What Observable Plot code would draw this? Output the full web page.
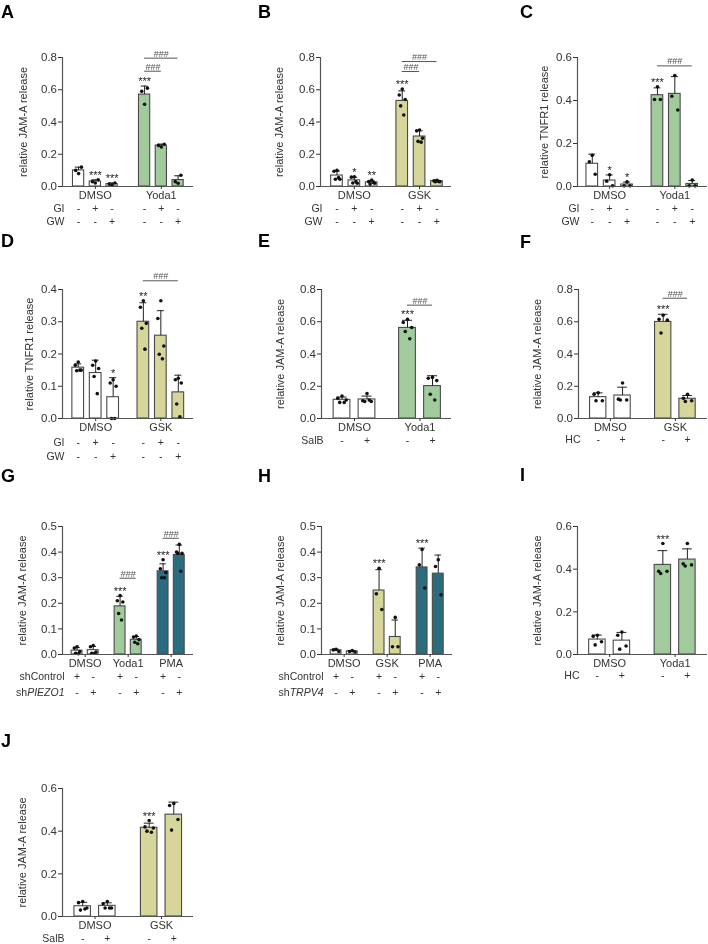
<!DOCTYPE html>
<html><head><meta charset="utf-8">
<script src="https://cdn.jsdelivr.net/npm/d3@7"></script>
<script src="https://cdn.jsdelivr.net/npm/@observablehq/plot@0.6"></script>
<style>
html,body{margin:0;padding:0;background:#fff;overflow:hidden;}
#fig{position:relative;width:708px;height:944px;overflow:hidden;font-family:"Liberation Sans",Arial,sans-serif;}
.letter{position:absolute;font-weight:bold;font-size:18px;line-height:18px;color:#000;font-family:"Liberation Sans",Arial,sans-serif;}
#fig svg{position:absolute;overflow:visible;will-change:transform;}
</style></head><body><div id="fig"></div>
<script>
// ---------- DATA ----------
// A
const A_groups = ["DMSO", "Yoda1"];
const A_points = [[0.08,0.10,0.12],[0.022,0.03,0.042],[0.008,0.015,0.022],[0.51,0.59,0.61],[0.245,0.255,0.262],[0.02,0.03,0.07]];
const A_stars = ["","***","***","***","",""];
const A_rowLabels = ["GI","GW"];
const A_rows = [["-","+","-","-","+","-"],["-","-","+","-","-","+"]];
const A_bFrom = [3,3], A_bTo = [4,5], A_bLevel = [0.715,0.796];
const A_yTicks = [0,0.2,0.4,0.6,0.8];
// B
const B_groups = ["DMSO", "GSK"];
const B_points = [[0.1,0.095,0.045,0.045,0.055],[0.06,0.058,0.02,0.022,0.03],[0.04,0.03,0.02,0.015,0.025],[0.604,0.567,0.54,0.5,0.443],[0.35,0.345,0.3,0.28,0.275],[0.038,0.035,0.03,0.03,0.032]];
const B_stars = ["","*","**","***","",""];
const B_rowLabels = ["GI","GW"];
const B_rows = [["-","+","-","-","+","-"],["-","-","+","-","-","+"]];
const B_bFrom = [3,3], B_bTo = [4,5], B_bLevel = [0.713,0.775];
const B_yTicks = [0,0.2,0.4,0.6,0.8];
// C
const C_groups = ["DMSO", "Yoda1"];
const C_points = [[0.145,0.115,0.057],[0.055,0.025,0.003],[0.022,0.003,0.003],[0.464,0.405,0.405],[0.516,0.42,0.356],[0.03,0.003,0.003]];
const C_stars = ["","*","*","***","",""];
const C_rowLabels = ["GI","GW"];
const C_rows = [["-","+","-","-","+","-"],["-","-","+","-","-","+"]];
const C_bFrom = [3], C_bTo = [5], C_bLevel = [0.561];
const C_yTicks = [0,0.2,0.4,0.6];
// D
const D_groups = ["DMSO", "GSK"];
const D_points = [[0.175,0.165,0.15,0.148,0.15],[0.178,0.165,0.155,0.13,0.077],[0.12,0.11,0.1,0,0],[0.365,0.345,0.295,0.28,0.215],[0.365,0.31,0.225,0.199,0.185],[0.125,0.12,0.11,0.045,0.005]];
const D_stars = ["","","*","**","",""];
const D_rowLabels = ["GI","GW"];
const D_rows = [["-","+","-","-","+","-"],["-","-","+","-","-","+"]];
const D_bFrom = [3], D_bTo = [5], D_bLevel = [0.427];
const D_yTicks = [0,0.1,0.2,0.3,0.4];
// E
const E_groups = ["DMSO", "Yoda1"];
const E_points = [[0.14,0.125,0.115,0.1,0.1],[0.155,0.11,0.105,0.105,0.115],[0.615,0.595,0.564,0.54,0.495],[0.255,0.25,0.235,0.15,0.115]];
const E_stars = ["","","***",""];
const E_rowLabels = ["SalB"];
const E_rows = [["-","+","-","+"]];
const E_bFrom = [2], E_bTo = [3], E_bLevel = [0.703];
const E_yTicks = [0,0.2,0.4,0.6,0.8];
// F
const F_groups = ["DMSO", "GSK"];
const F_points = [[0.16,0.15,0.11,0.11],[0.22,0.12,0.115,0.115],[0.64,0.615,0.61,0.53],[0.15,0.125,0.11,0.105]];
const F_stars = ["","","***",""];
const F_rowLabels = ["HC"];
const F_rows = [["-","+","-","+"]];
const F_bFrom = [2], F_bTo = [3], F_bLevel = [0.746];
const F_yTicks = [0,0.2,0.4,0.6,0.8];
// G
const G_groups = ["DMSO", "Yoda1", "PMA"];
const G_points = [[0.03,0.025,0.012,0.005,0.003],[0.035,0.03,0.01,0.005,0.005],[0.23,0.21,0.205,0.16,0.135],[0.072,0.068,0.058,0.048,0.042],[0.37,0.335,0.32,0.3,0.3],[0.43,0.4,0.395,0.395,0.325]];
const G_stars = ["","","***","","***",""];
const G_rowLabels = ["shControl","shPIEZO1"];
const G_rowItalic = [null,"PIEZO1"];
const G_rows = [["+","-","+","-","+","-"],["-","+","-","+","-","+"]];
const G_bFrom = [2,4], G_bTo = [3,5], G_bLevel = [0.298,0.454];
const G_yTicks = [0,0.1,0.2,0.3,0.4,0.5];
// H
const H_groups = ["DMSO", "GSK", "PMA"];
const H_points = [[0.02,0.018,0.012],[0.015,0.012,0.01],[0.337,0.237,0.176],[0.145,0.03,0.03],[0.41,0.35,0.26],[0.37,0.344,0.233]];
const H_stars = ["","","***","","***",""];
const H_rowLabels = ["shControl","shTRPV4"];
const H_rowItalic = [null,"TRPV4"];
const H_rows = [["+","-","+","-","+","-"],["-","+","-","+","-","+"]];
const H_bFrom = [], H_bTo = [], H_bLevel = [];
const H_yTicks = [0,0.1,0.2,0.3,0.4,0.5];
// I
const I_groups = ["DMSO", "Yoda1"];
const I_points = [[0.09,0.085,0.06,0.045],[0.105,0.09,0.04,0.025],[0.52,0.39,0.39,0.38],[0.52,0.425,0.42,0.415]];
const I_stars = ["","","***",""];
const I_rowLabels = ["HC"];
const I_rows = [["-","+","-","+"]];
const I_bFrom = [], I_bTo = [], I_bLevel = [];
const I_yTicks = [0,0.2,0.4,0.6];
// J
const J_groups = ["DMSO", "GSK"];
const J_points = [[0.07,0.065,0.04,0.03,0.035],[0.07,0.06,0.04,0.04,0.04],[0.45,0.42,0.415,0.4,0.395],[0.53,0.52,0.455,0.405]];
const J_stars = ["","","***",""];
const J_rowLabels = ["SalB"];
const J_rows = [["-","+","-","+"]];
const J_bFrom = [], J_bTo = [], J_bLevel = [];
const J_yTicks = [0,0.2,0.4,0.6];

const JAM = "relative JAM-A release", TNF = "relative TNFR1 release";

// ---------- STYLE ----------
const FONT = '"Liberation Sans", Arial, sans-serif';
const COLORS = {DMSO:"#ffffff", Yoda1:"#a1cb9d", GSK:"#d7d69a", PMA:"#2b6c7e"};
const BW = 0.67, CAP = 0.2, MT = 38;
const JIT = [0,-0.17,0.17,-0.09,0.09,0];

const panels = [
 {L:"A",lx:1,ly:3, svgLeft:0,  yTop:57,  plotH:129, axis:[62,193],  gap:1.94,padL:0.96,padR:0.92,labelOff:39,rowDy:[22,35],mb:52,
  groups:A_groups,points:A_points,stars:A_stars,rowLabels:A_rowLabels,rows:A_rows,bFrom:A_bFrom,bTo:A_bTo,bLevel:A_bLevel,yTicks:A_yTicks,yLabel:JAM},
 {L:"B",lx:258,ly:3, svgLeft:236,yTop:57, plotH:129, axis:[320,451], gap:1.76,padL:0.95,padR:0.84,labelOff:41,rowDy:[22,35],mb:52,
  groups:B_groups,points:B_points,stars:B_stars,rowLabels:B_rowLabels,rows:B_rows,bFrom:B_bFrom,bTo:B_bTo,bLevel:B_bLevel,yTicks:B_yTicks,yLabel:JAM},
 {L:"C",lx:520,ly:3, svgLeft:472,yTop:57, plotH:129, axis:[577,707], gap:1.75,padL:0.85,padR:0.88,labelOff:33,rowDy:[22,35],mb:52,
  groups:C_groups,points:C_points,stars:C_stars,rowLabels:C_rowLabels,rows:C_rows,bFrom:C_bFrom,bTo:C_bTo,bLevel:C_bLevel,yTicks:C_yTicks,yLabel:TNF},
 {L:"D",lx:1,ly:232, svgLeft:0,  yTop:289, plotH:129, axis:[62,193],  gap:1.73,padL:0.9,padR:0.87,labelOff:33,rowDy:[24,38],mb:52,
  groups:D_groups,points:D_points,stars:D_stars,rowLabels:D_rowLabels,rows:D_rows,bFrom:D_bFrom,bTo:D_bTo,bLevel:D_bLevel,yTicks:D_yTicks,yLabel:TNF},
 {L:"E",lx:258,ly:232, svgLeft:236,yTop:289,plotH:129, axis:[321,451], gap:1.62,padL:0.82,padR:0.76,labelOff:41,rowDy:[22],mb:52,
  groups:E_groups,points:E_points,stars:E_stars,rowLabels:E_rowLabels,rows:E_rows,bFrom:E_bFrom,bTo:E_bTo,bLevel:E_bLevel,yTicks:E_yTicks,yLabel:JAM},
 {L:"F",lx:520,ly:233, svgLeft:472,yTop:289,plotH:129, axis:[578,707], gap:1.67,padL:0.81,padR:0.82,labelOff:41,rowDy:[21],mb:52,
  groups:F_groups,points:F_points,stars:F_stars,rowLabels:F_rowLabels,rows:F_rows,bFrom:F_bFrom,bTo:F_bTo,bLevel:F_bLevel,yTicks:F_yTicks,yLabel:JAM},
 {L:"G",lx:1,ly:467, svgLeft:0,  yTop:526, plotH:128, axis:[62,193],  gap:1.66,padL:0.9,padR:0.88,labelOff:40,rowDy:[22,38],mb:50,
  groups:G_groups,points:G_points,stars:G_stars,rowLabels:G_rowLabels,rowItalic:G_rowItalic,rows:G_rows,bFrom:G_bFrom,bTo:G_bTo,bLevel:G_bLevel,yTicks:G_yTicks,yLabel:JAM},
 {L:"H",lx:258,ly:467, svgLeft:236,yTop:526,plotH:128, axis:[321,452], gap:1.66,padL:0.9,padR:0.88,labelOff:41,rowDy:[22,38],mb:50,
  groups:H_groups,points:H_points,stars:H_stars,rowLabels:H_rowLabels,rowItalic:H_rowItalic,rows:H_rows,bFrom:H_bFrom,bTo:H_bTo,bLevel:H_bLevel,yTicks:H_yTicks,yLabel:JAM},
 {L:"I",lx:520,ly:466, svgLeft:472,yTop:526,plotH:128, axis:[577,707], gap:1.67,padL:0.81,padR:0.82,labelOff:40,rowDy:[21],mb:50,
  groups:I_groups,points:I_points,stars:I_stars,rowLabels:I_rowLabels,rows:I_rows,bFrom:I_bFrom,bTo:I_bTo,bLevel:I_bLevel,yTicks:I_yTicks,yLabel:JAM},
 {L:"J",lx:1,ly:732, svgLeft:0,  yTop:788, plotH:128, axis:[62,193],  gap:1.7,padL:0.82,padR:0.8,labelOff:40,rowDy:[22],mb:28,
  groups:J_groups,points:J_points,stars:J_stars,rowLabels:J_rowLabels,rows:J_rows,bFrom:J_bFrom,bTo:J_bTo,bLevel:J_bLevel,yTicks:J_yTicks,yLabel:JAM}
];

const fig = document.getElementById("fig");

function makePanel(p) {
  const n = p.points.length;
  const per = n / p.groups.length;
  const pos = d3.range(n).map(i => Math.floor(i / per) * (per - 1 + p.gap) + (i % per));
  const bars = p.points.map((pts, i) => {
    const mean = d3.mean(pts), sd = d3.deviation(pts);
    return {pos: pos[i], group: p.groups[Math.floor(i / per)], mean, sd, eTop: mean + sd,
            sTop: Math.max(mean + sd, d3.max(pts)), star: p.stars[i]};
  });
  const dots = p.points.flatMap((pts, i) => pts.map((v, k) => ({x: pos[i] + JIT[k % JIT.length], y: v})));
  const centers = p.groups.map((g, gi) => d3.mean(pos.slice(gi * per, (gi + 1) * per)));
  const labelOf = new Map(centers.map((c, gi) => [c, p.groups[gi]]));
  const x0 = -p.padL, x1 = pos[n - 1] + p.padR;
  const ml = p.axis[0] - p.svgLeft;
  const mr = p.svgLeft === 472 ? 1 : 20;
  const width = p.axis[1] - p.svgLeft + mr;
  const height = MT + p.plotH + p.mb;
  const yMax = p.yTicks[p.yTicks.length - 1];
  const brackets = p.bFrom.map((f, k) => ({x1: pos[f], x2: pos[p.bTo[k]], y: p.bLevel[k]}));

  const marks = [
    Plot.rectY(bars, {x1: d => d.pos - BW / 2, x2: d => d.pos + BW / 2, y1: 0, y2: "mean",
      fill: d => COLORS[d.group], stroke: "#4a4a4a", strokeWidth: 1.1}),
    Plot.ruleX(bars, {x: "pos", y1: "mean", y2: "eTop", stroke: "#222", strokeWidth: 1}),
    Plot.ruleY(bars, {y: "eTop", x1: d => d.pos - CAP, x2: d => d.pos + CAP, stroke: "#222", strokeWidth: 1}),
    Plot.dot(dots, {x: "x", y: "y", r: 1.8, fill: "#111", stroke: "none"}),
    Plot.text(bars.filter(d => d.star), {x: "pos", y: "sTop", text: "star", lineAnchor: "bottom", dy: -1, fontSize: 11, fill: "#222"}),
    Plot.ruleY(brackets, {y: "y", x1: "x1", x2: "x2", stroke: "#555", strokeWidth: 1}),
    Plot.text(brackets, {x: d => (d.x1 + d.x2) / 2, y: "y", text: () => "###", lineAnchor: "bottom", dy: -1.5, fontSize: 9, fill: "#555"}),
    Plot.ruleY([0], {stroke: "#555", strokeWidth: 1.2}),
    Plot.ruleX([x0], {stroke: "#555", strokeWidth: 1.2}),
    Plot.axisY({ticks: p.yTicks, tickFormat: d3.format(".1f"), tickSize: 4, tickPadding: 1.5, fontSize: 11.5, color: "#333", label: null}),
    Plot.axisX({ticks: centers, tickFormat: d => labelOf.get(d), tickSize: 3, tickPadding: 2, fontSize: 11, color: "#333", label: null}),
    Plot.text([p.yLabel], {text: d => d, frameAnchor: "left", textAnchor: "middle", lineAnchor: "middle", rotate: -90, dx: -p.labelOff, fontSize: 11, fill: "#333"})
  ];
  p.rows.forEach((row, r) => {
    marks.push(Plot.text(row.map((s, i) => ({s, x: pos[i]})), {x: "x", text: "s", frameAnchor: "bottom", lineAnchor: "middle", dy: p.rowDy[r], fontSize: 10.5, fill: "#333"}));
    marks.push(Plot.text([p.rowLabels[r]], {text: d => d, frameAnchor: "bottom-left", textAnchor: "end", lineAnchor: "middle", dx: 2, dy: p.rowDy[r], fontSize: 10.5, fill: "#333"}));
  });

  const svg = Plot.plot({
    width, height, marginLeft: ml, marginRight: mr, marginTop: MT, marginBottom: p.mb,
    x: {domain: [x0, x1]}, y: {domain: [0, yMax]}, color: {type: "identity"},
    style: {fontFamily: FONT, fontSize: "11px", background: "transparent", overflow: "visible"},
    marks
  });
  svg.style.left = p.svgLeft + "px";
  svg.style.top = (p.yTop - MT) + "px";
  if (p.rowItalic) {
    p.rowItalic.forEach((it, r) => {
      if (!it) return;
      const full = p.rowLabels[r];
      svg.querySelectorAll("text").forEach(t => {
        if (t.textContent === full) {
          const pre = full.slice(0, full.length - it.length);
          t.textContent = "";
          const a = document.createElementNS("http://www.w3.org/2000/svg", "tspan");
          a.textContent = pre;
          const b = document.createElementNS("http://www.w3.org/2000/svg", "tspan");
          b.textContent = it; b.setAttribute("font-style", "italic");
          t.appendChild(a); t.appendChild(b);
        }
      });
    });
  }
  fig.appendChild(svg);
  const lab = document.createElement("div");
  lab.className = "letter";
  lab.textContent = p.L;
  lab.style.left = p.lx + "px";
  lab.style.top = p.ly + "px";
  fig.appendChild(lab);
}
panels.forEach(makePanel);
</script></body></html>
